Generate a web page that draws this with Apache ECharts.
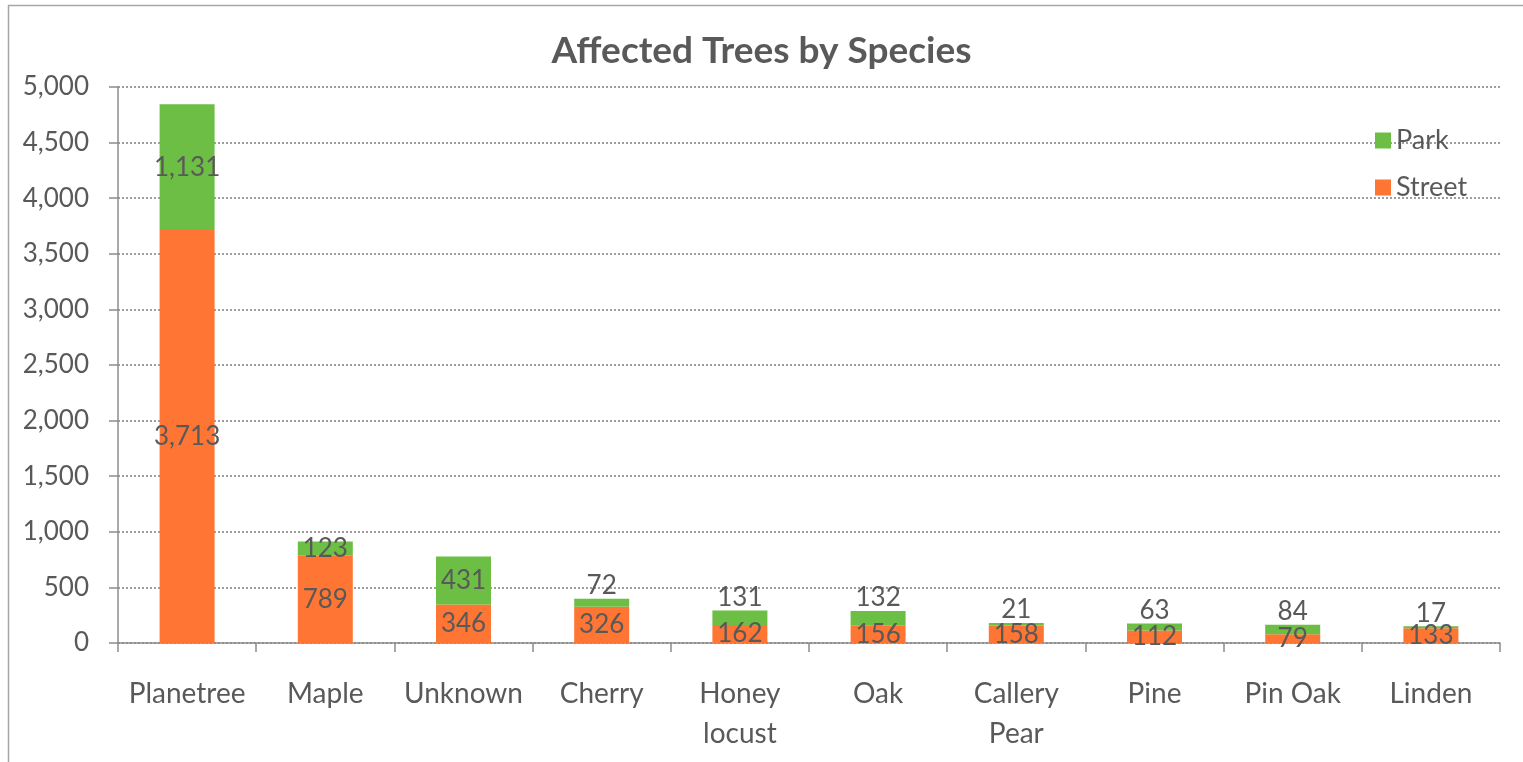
<!DOCTYPE html>
<html>
<head>
<meta charset="utf-8">
<title>Affected Trees by Species</title>
<script src="https://cdn.jsdelivr.net/npm/echarts@6/dist/echarts.min.js"></script>
<style>
  html, body { margin: 0; padding: 0; background: #fff; }
  #chart { width: 1523px; height: 762px; }
</style>
</head>
<body>
<div id="chart"></div>
<script>
  // categories along the x axis
  var species = ['Planetree', 'Maple', 'Unknown', 'Cherry', 'Honey\nlocust', 'Oak', 'Callery\nPear', 'Pine', 'Pin Oak', 'Linden'];
  // stacked values (street at the bottom, park on top)
  var street = [3713, 789, 346, 326, 162, 156, 158, 112, 79, 133];
  var park = [1131, 123, 431, 72, 131, 132, 21, 63, 84, 17];
  // y axis ticks
  var yMin = 0, yMax = 5000, yStep = 500;

  var textColor = '#595959';
  var font = 'Lato, "Open Sans", sans-serif';

  // park labels sit inside the big segments, above the bar for the small ones
  var parkData = park.map(function (v, i) {
    return {
      value: v,
      label: i < 3 ? { position: 'inside' } : { position: 'top', distance: 0 }
    };
  });

  var chart = echarts.init(document.getElementById('chart'));
  chart.setOption({
    animation: false,
    textStyle: { fontFamily: font },
    title: {
      text: 'Affected Trees by Species',
      left: 'center',
      top: 28,
      textStyle: { fontSize: 37, fontWeight: 'bold', color: textColor, fontFamily: font }
    },
    graphic: [{
      type: 'rect',
      shape: { x: 8.5, y: 5.5, width: 1600, height: 900 },
      style: { fill: 'none', stroke: '#a6a6a6', lineWidth: 1.5 },
      silent: true
    }],
    legend: {
      data: ['Park', 'Street'],
      orient: 'vertical',
      left: 1370,
      top: 122,
      itemWidth: 16,
      itemHeight: 16,
      itemGap: 20,
      icon: 'rect',
      textStyle: { fontSize: 27, color: textColor, fontFamily: font }
    },
    grid: { left: 118, right: 23, top: 87, bottom: 119 },
    xAxis: {
      type: 'category',
      data: species,
      axisLine: { lineStyle: { color: '#8c8c8c', width: 1.5 } },
      axisTick: { show: true, length: 9, lineStyle: { color: '#8c8c8c', width: 1.5 } },
      axisLabel: { fontSize: 28, color: textColor, margin: 31, lineHeight: 40, interval: 0 }
    },
    yAxis: {
      type: 'value',
      min: yMin,
      max: yMax,
      interval: yStep,
      axisLine: { show: true, lineStyle: { color: '#8c8c8c', width: 1.5 } },
      axisTick: { show: true, length: 9, lineStyle: { color: '#8c8c8c', width: 1.5 } },
      axisLabel: {
        fontSize: 26,
        color: textColor,
        margin: 29,
        formatter: function (v) { return v.toLocaleString('en-US'); }
      },
      splitLine: { lineStyle: { color: '#7f7f7f', type: [2, 2], width: 1.5 } }
    },
    series: [{
      name: 'Street',
      type: 'bar',
      stack: 'trees',
      data: street,
      barWidth: 55,
      itemStyle: { color: '#FF7533' },
      label: {
        show: true,
        position: 'inside',
        fontSize: 26,
        color: textColor,
        formatter: function (p) { return p.value.toLocaleString('en-US'); }
      }
    }, {
      name: 'Park',
      type: 'bar',
      stack: 'trees',
      data: parkData,
      barWidth: 55,
      itemStyle: { color: '#6CBE45' },
      label: {
        show: true,
        fontSize: 26,
        color: textColor,
        formatter: function (p) { return p.value.toLocaleString('en-US'); }
      }
    }]
  });
</script>
</body>
</html>
